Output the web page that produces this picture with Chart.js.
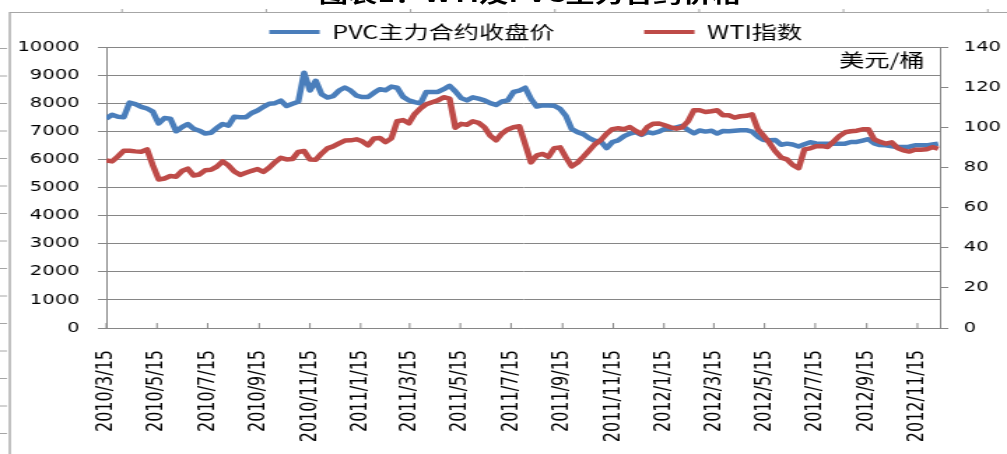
<!DOCTYPE html>
<html>
<head>
<meta charset="utf-8">
<script src="https://cdn.jsdelivr.net/npm/chart.js@4.4.1/dist/chart.umd.min.js"></script>
<style>
  html, body { margin: 0; padding: 0; background: #fff; overflow: hidden; }
  /* the reference is stretched sideways, so draw narrow and stretch */
  #wrap { position: relative; width: 720px; height: 454px; transform: scaleX(1.3986); transform-origin: 0 0; }
  #lineChart { position: absolute; left: 0; top: 0; }
  #title { position: absolute; left: 0; width: 758px; top: -17px; text-align: center; font: bold 21px "Noto Sans CJK SC"; line-height: 21px; color: #000; white-space: nowrap; }
</style>
</head>
<body>
<div id="wrap">
  <canvas id="lineChart" width="720" height="454"></canvas>
  <div id="title">图表1：WTI及PVC主力合约价格</div>
</div>
<script>
// weekly readings (Mondays)
var dates = [
  "2010-03-15","2010-03-22","2010-03-29","2010-04-05","2010-04-12","2010-04-19","2010-04-26","2010-05-03","2010-05-10","2010-05-17",
  "2010-05-24","2010-05-31","2010-06-07","2010-06-14","2010-06-21","2010-06-28","2010-07-05","2010-07-12","2010-07-19","2010-07-26",
  "2010-08-02","2010-08-09","2010-08-16","2010-08-23","2010-08-30","2010-09-06","2010-09-13","2010-09-20","2010-09-27","2010-10-04",
  "2010-10-11","2010-10-18","2010-10-25","2010-11-01","2010-11-08","2010-11-15","2010-11-22","2010-11-29","2010-12-06","2010-12-13",
  "2010-12-20","2010-12-27","2011-01-03","2011-01-10","2011-01-17","2011-01-24","2011-01-31","2011-02-07","2011-02-14","2011-02-21",
  "2011-02-28","2011-03-07","2011-03-14","2011-03-21","2011-03-28","2011-04-04","2011-04-11","2011-04-18","2011-04-25","2011-05-02",
  "2011-05-09","2011-05-16","2011-05-23","2011-05-30","2011-06-06","2011-06-13","2011-06-20","2011-06-27","2011-07-04","2011-07-11",
  "2011-07-18","2011-07-25","2011-08-01","2011-08-08","2011-08-15","2011-08-22","2011-08-29","2011-09-05","2011-09-12","2011-09-19",
  "2011-09-26","2011-10-03","2011-10-10","2011-10-17","2011-10-24","2011-10-31","2011-11-07","2011-11-14","2011-11-21","2011-11-28",
  "2011-12-05","2011-12-12","2011-12-19","2011-12-26","2012-01-02","2012-01-09","2012-01-16","2012-01-23","2012-01-30","2012-02-06",
  "2012-02-13","2012-02-20","2012-02-27","2012-03-05","2012-03-12","2012-03-19","2012-03-26","2012-04-02","2012-04-09","2012-04-16",
  "2012-04-23","2012-04-30","2012-05-07","2012-05-14","2012-05-21","2012-05-28","2012-06-04","2012-06-11","2012-06-18","2012-06-25",
  "2012-07-02","2012-07-09","2012-07-16","2012-07-23","2012-07-30","2012-08-06","2012-08-13","2012-08-20","2012-08-27","2012-09-03",
  "2012-09-10","2012-09-17","2012-09-24","2012-10-01","2012-10-08","2012-10-15","2012-10-22","2012-10-29","2012-11-05","2012-11-12",
  "2012-11-19","2012-11-26","2012-12-03","2012-12-10"
];

var pvcClose = [
  7450, 7590, 7520, 7500, 8020, 7970, 7870, 7810, 7700, 7280,
  7470, 7450, 7000, 7150, 7260, 7090, 7020, 6920, 6950, 7120,
  7260, 7200, 7520, 7500, 7500, 7650, 7740, 7870, 7980, 8000,
  8090, 7900, 7980, 8050, 9080, 8450, 8800, 8320, 8200, 8250,
  8450, 8560, 8450, 8270, 8220, 8220, 8370, 8500, 8460, 8590,
  8550, 8230, 8100, 8040, 7990, 8400, 8400, 8400, 8500, 8620,
  8420, 8180, 8100, 8210, 8160, 8100, 8000, 7940, 8060, 8100,
  8400, 8450, 8550, 8150, 7880, 7920, 7920, 7910, 7800, 7550,
  7080, 6970, 6900, 6760, 6660, 6640, 6400, 6620, 6680, 6830,
  6920, 6970, 6870, 6970, 6930, 6990, 7090, 7090, 7140, 7190,
  7050, 6930, 7030, 6990, 7020, 6920, 7010, 7000, 7020, 7040,
  7040, 6990, 6810, 6690, 6680, 6690, 6520, 6560, 6530, 6460,
  6540, 6610, 6570, 6560, 6560, 6560, 6560, 6560, 6620, 6620,
  6670, 6720, 6570, 6510, 6500, 6470, 6440, 6440, 6450, 6500,
  6500, 6500, 6530, 6560
];

var wtiIndex = [
  83.5, 83.0, 85.5, 88.3, 88.3, 88.0, 87.8, 89.0, 81.0, 74.0,
  74.5, 75.7, 75.4, 78.2, 79.4, 76.0, 76.5, 78.6, 78.8, 80.4,
  83.0, 81.0, 78.0, 76.3, 77.3, 78.3, 79.2, 77.8, 79.9, 82.6,
  84.8, 84.0, 84.2, 87.7, 88.2, 84.0, 83.8, 86.9, 89.5, 90.5,
  92.0, 93.4, 93.5, 94.0, 93.0, 91.0, 94.4, 94.7, 92.6, 94.5,
  103.0, 103.6, 102.0, 106.6, 109.4, 111.5, 112.5, 113.4, 115.0, 114.3,
  99.8, 101.7, 101.3, 103.0, 102.2, 100.0, 95.8, 93.5, 96.9, 98.9,
  100.0, 100.5, 91.5, 82.5, 86.0, 86.7, 85.3, 89.6, 90.0, 85.0,
  80.5, 82.4, 85.3, 88.4, 91.6, 93.6, 96.8, 99.1, 99.5, 99.0,
  100.1, 98.2, 96.6, 100.1, 101.8, 101.9, 101.0, 100.0, 99.3, 100.0,
  103.0, 108.5, 108.5, 107.6, 108.0, 108.5, 106.0, 106.0, 104.8, 105.5,
  105.7, 106.5, 99.0, 95.7, 92.2, 88.0, 84.9, 84.0, 81.2, 79.6,
  89.0, 89.5, 90.6, 90.6, 90.2, 92.9, 95.6, 97.5, 98.0, 98.3,
  99.0, 99.0, 94.0, 92.7, 91.9, 92.5, 89.7, 88.5, 87.9, 88.8,
  88.8, 89.0, 90.1, 89.3
];

var tickLabels = [
  "2010/3/15", "2010/5/15", "2010/7/15", "2010/9/15", "2010/11/15", "2011/1/15",
  "2011/3/15", "2011/5/15", "2011/7/15", "2011/9/15", "2011/11/15", "2012/1/15",
  "2012/3/15", "2012/5/15", "2012/7/15", "2012/9/15", "2012/11/15"
];

var unitLabel = "美元/桶";

function dayNum(s) {
  var p = s.split(/[-\/]/).map(Number);
  return Date.UTC(p[0], p[1] - 1, p[2]) / 86400000;
}

var grey = "#868686";
var cjk = '"Noto Sans CJK SC"';
var legendGap = 64;

// legend box: fixed height so the plot starts where the reference does,
// and moved so the wide item gap does not push the row down
var legendFit = {
  id: "legendFit",
  beforeInit: function (chart) {
    var fit = chart.legend.fit;
    chart.legend.fit = function () {
      fit.call(this);
      this.height = 34;
    };
  },
  beforeDraw: function (chart) {
    var lg = chart.legend;
    lg.left = 46;
    lg.top = 32 - 9 - legendGap;
  }
};

var extras = {
  id: "extras",
  beforeDraw: function (chart) {
    var ctx = chart.ctx;
    ctx.save();
    ctx.strokeStyle = "#a6a6a6";
    ctx.lineWidth = 1.4;
    ctx.beginPath();
    ctx.moveTo(7, 12);
    ctx.lineTo(7, 454);
    ctx.stroke();
    ctx.lineWidth = 1;
    ctx.beginPath();
    ctx.moveTo(7, 12.5);
    ctx.lineTo(720, 12.5);
    for (var k = 0; k < 7; k++) {
      var px = (122 + 144.3 * k) / 1.3986;
      ctx.moveTo(px, 9);
      ctx.lineTo(px, 12.5);
    }
    for (var y = 48.5; y < 454; y += 27.5) {
      ctx.moveTo(0, y);
      ctx.lineTo(5, y);
    }
    ctx.stroke();
    ctx.restore();
  },
  afterDraw: function (chart) {
    var ctx = chart.ctx, area = chart.chartArea, x = chart.scales.x;
    ctx.save();
    ctx.strokeStyle = grey;
    ctx.lineWidth = 1;
    ctx.beginPath();
    x.ticks.forEach(function (t) {
      var px = x.getPixelForValue(t.value);
      ctx.moveTo(px, area.bottom);
      ctx.lineTo(px, area.bottom - 5);
    });
    ctx.stroke();
    ctx.fillStyle = "#000";
    ctx.font = "18px " + cjk;
    ctx.textAlign = "right";
    ctx.textBaseline = "middle";
    ctx.fillText(unitLabel, area.right - 11, 60);
    ctx.restore();
  }
};

var ctx = document.getElementById("lineChart").getContext("2d");
var myChart = new Chart(ctx, {
  type: "line",
  data: {
    datasets: [
      {
        label: "PVC主力合约收盘价",
        data: dates.map(function (d, i) { return { x: dayNum(d), y: pvcClose[i] }; }),
        yAxisID: "y",
        borderColor: "#4a7ebb",
        backgroundColor: "#4a7ebb",
        borderWidth: 4.5,
        borderJoinStyle: "round",
        pointRadius: 0,
        tension: 0,
        order: 1
      },
      {
        label: "WTI指数",
        data: dates.map(function (d, i) { return { x: dayNum(d), y: wtiIndex[i] }; }),
        yAxisID: "y1",
        borderColor: "#be4b48",
        backgroundColor: "#be4b48",
        borderWidth: 4.5,
        borderJoinStyle: "round",
        pointRadius: 0,
        tension: 0,
        order: 0
      }
    ]
  },
  options: {
    responsive: false,
    animation: false,
    layout: { padding: { left: 0, top: 13, right: 0, bottom: 0 } },
    plugins: {
      legend: {
        position: "top",
        labels: {
          font: { family: cjk, size: 18 },
          color: "#000",
          boxWidth: 36,
          boxHeight: 4,
          padding: legendGap,
          sort: function (a, b) { return a.datasetIndex - b.datasetIndex; },
          generateLabels: function (c) {
            return Chart.defaults.plugins.legend.labels.generateLabels(c).map(function (l) {
              l.lineWidth = 0;
              return l;
            });
          }
        }
      },
      tooltip: { enabled: false }
    },
    scales: {
      x: {
        type: "linear",
        min: dayNum("2010-03-15"),
        max: dayNum("2012-12-12"),
        afterBuildTicks: function (s) {
          s.ticks = tickLabels.map(function (t) { return { value: dayNum(t) }; });
        },
        afterFit: function (s) { s.height = 126; },
        grid: { display: false },
        border: { display: true, color: grey, width: 1 },
        ticks: {
          autoSkip: false,
          minRotation: 90,
          maxRotation: 90,
          padding: 14,
          color: "#000",
          font: { family: "DejaVu Sans", size: 16 },
          callback: function (v, i) { return tickLabels[i]; }
        }
      },
      y: {
        position: "left",
        min: 0,
        max: 10000,
        afterFit: function (s) { s.width = 76; },
        grid: { color: grey, tickLength: 6 },
        border: { color: grey },
        ticks: {
          stepSize: 1000,
          padding: 13,
          color: "#000",
          font: { family: "DejaVu Sans", size: 14 },
          callback: function (v) { return String(v); }
        }
      },
      y1: {
        position: "right",
        min: 0,
        max: 140,
        afterFit: function (s) { s.width = 48; },
        grid: { drawOnChartArea: false, color: grey, tickLength: 6 },
        border: { color: grey },
        ticks: {
          stepSize: 20,
          padding: 11,
          color: "#000",
          font: { family: "DejaVu Sans", size: 14 },
          callback: function (v) { return String(v); }
        }
      }
    }
  },
  plugins: [legendFit, extras]
});
</script>
</body>
</html>
